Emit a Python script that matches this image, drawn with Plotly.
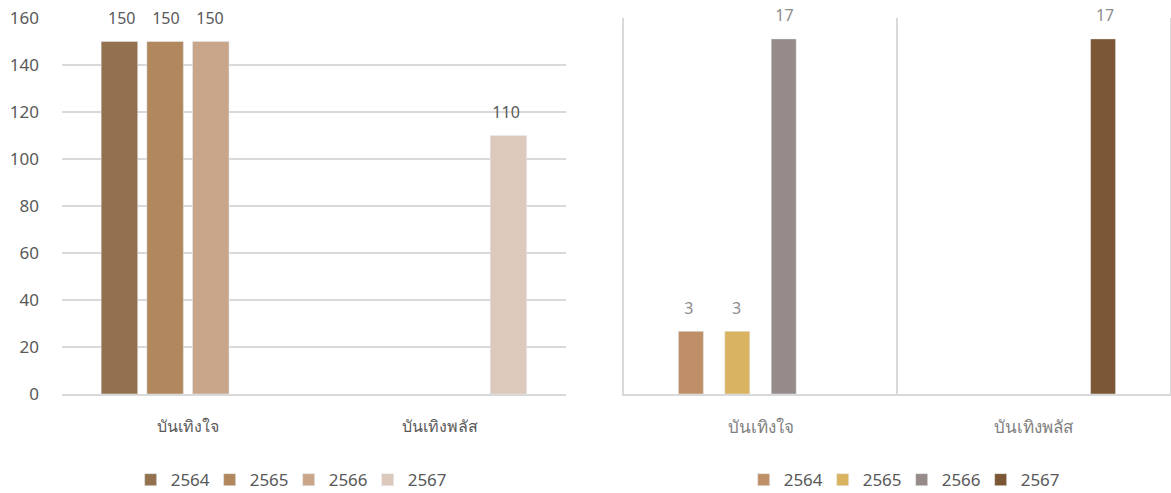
import plotly.graph_objects as go
from plotly.subplots import make_subplots

categories = ["บันเทิงใจ", "บันเทิงพลัส"]
years = ["2564", "2565", "2566", "2567"]

left_values = {
    "2564": [150, None],
    "2565": [150, None],
    "2566": [150, None],
    "2567": [None, 110],
}
right_values = {
    "2564": [3, None],
    "2565": [3, None],
    "2566": [17, None],
    "2567": [None, 17],
}
left_colors = ["#93714F", "#B1875E", "#C9A68A", "#DDC9BB"]
right_colors = ["#BF9068", "#D9B35F", "#968B88", "#7B5736"]

left_ticks = [0, 20, 40, 60, 80, 100, 120, 140, 160]

FONT = "Noto Sans, Open Sans, sans-serif"
GRID = "#D9D9D9"

fig = make_subplots(rows=1, cols=2)

# right-panel bar geometry (style): slot spacing and bar width in category units
R_SLOT = 0.170
R_WIDTH = 0.0916

for y, c in zip(years, left_colors):
    fig.add_trace(go.Bar(
        x=categories, y=left_values[y], name=y, marker_color=c,
        legend="legend",
    ), row=1, col=1)

for i, (y, c) in enumerate(zip(years, right_colors)):
    fig.add_trace(go.Bar(
        x=categories, y=right_values[y], name=y, marker_color=c,
        width=R_WIDTH, offset=(i - 1.5) * R_SLOT - R_WIDTH / 2,
        legend="legend2",
    ), row=1, col=2)

# value labels (grouped scatter text aligned with the bar slots)
for y in years:
    fig.add_trace(go.Scatter(
        x=categories, y=left_values[y], mode="markers+text",
        text=[str(v) if v is not None else None for v in left_values[y]],
        textposition="top center", marker=dict(size=20, opacity=0),
        textfont=dict(color="#595959", size=16, family=FONT),
        cliponaxis=False, showlegend=False, hoverinfo="skip",
    ), row=1, col=1)
for y in years:
    fig.add_trace(go.Scatter(
        x=categories, y=right_values[y], mode="markers+text",
        text=[str(v) if v is not None else None for v in right_values[y]],
        textposition="top center", marker=dict(size=20, opacity=0),
        textfont=dict(color="#8C8C8C", size=16, family=FONT),
        cliponaxis=False, showlegend=False, hoverinfo="skip",
    ), row=1, col=2)

legend_common = dict(orientation="h", xanchor="center", y=-0.229,
                     yanchor="middle", font=dict(size=17, color="#595959", family=FONT),
                     entrywidth=34, itemwidth=30, traceorder="normal",
                     bgcolor="rgba(0,0,0,0)")

fig.update_layout(
    width=1171, height=493,
    margin=dict(l=0, r=0, t=18, b=99, autoexpand=False),
    paper_bgcolor="white", plot_bgcolor="white",
    barmode="group", bargap=0.275, bargroupgap=0.2,
    scattermode="group", scattergap=0.3,
    font=dict(family=FONT, color="#595959"),
    xaxis=dict(domain=[0.0529, 0.4833], showgrid=False, showline=True,
               linecolor=GRID, linewidth=2, ticks="", automargin=False,
               ticklabelstandoff=17, tickfont=dict(size=16, color="#595959")),
    yaxis=dict(range=[0, 160], tickvals=left_ticks, showgrid=True,
               gridcolor=GRID, gridwidth=1.5, zeroline=False,
               showline=False, ticks="", ticklabelstandoff=22, automargin=False,
               tickfont=dict(size=17, color="#595959")),
    xaxis2=dict(domain=[0.5329, 0.9991], showgrid=True, tickson="boundaries",
                gridcolor=GRID, gridwidth=2, showline=True, mirror=False,
                linecolor=GRID, linewidth=2, ticks="", automargin=False,
                ticklabelstandoff=17, tickfont=dict(size=17, color="#7F7F7F")),
    yaxis2=dict(range=[0, 18], showgrid=False, zeroline=False,
                showticklabels=False, showline=True, mirror=True,
                linecolor=GRID, linewidth=2, ticks="", automargin=False),
    legend=dict(x=0.2465, **legend_common),
    legend2=dict(x=0.770, **legend_common),
    showlegend=True,
)

fig.write_html("out.html",
               config={"displayModeBar": False},
               post_script="document.body.style.margin='0';document.body.style.padding='0';")
